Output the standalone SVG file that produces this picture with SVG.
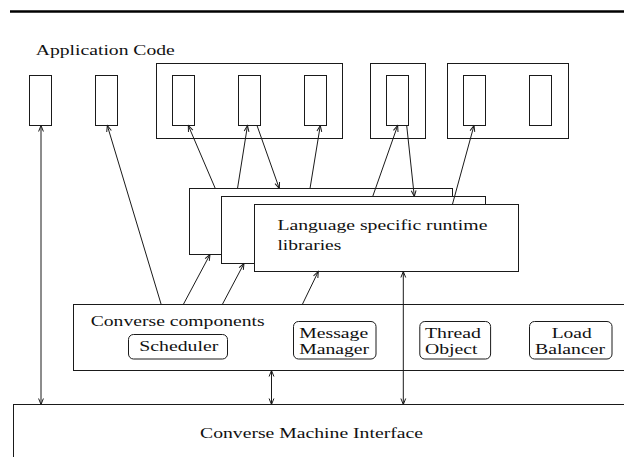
<svg xmlns="http://www.w3.org/2000/svg" width="624" height="457" viewBox="0 0 624 457">
  <style>
    .box { fill: #ffffff; stroke: #1a1a1a; stroke-width: 1; }
    .open { fill: none; stroke: #1a1a1a; stroke-width: 1; }
    .comp { fill: #ffffff; stroke: #1a1a1a; stroke-width: 1; }
    .lbl { font-family: "Liberation Serif", "Times New Roman", serif; font-size: 15px; fill: #111111; }
    .wire { fill: none; stroke: #1a1a1a; stroke-width: 1; }
  </style>
  <defs>
    <marker id="tip" viewBox="-8 -4 9 8" markerWidth="9" markerHeight="8" refX="0" refY="0" markerUnits="userSpaceOnUse" orient="auto-start-reverse">
      <path d="M-6,-2.4 L0,0 L-6,2.4" fill="none" stroke="#1a1a1a" stroke-width="1"/>
    </marker>
  </defs>

  <rect width="624" height="457" fill="#ffffff"/>

  <!-- heading rule -->
  <line x1="10" y1="11.5" x2="624" y2="11.5" stroke="#000000" stroke-width="2.5"/>

  <g id="application-code">
    <text class="lbl" x="35.8" y="55" textLength="139" lengthAdjust="spacingAndGlyphs">Application Code</text>
    <g id="app-object-1"><rect class="box" x="29.5" y="75.5" width="22" height="50"/></g>
    <g id="app-object-2"><rect class="box" x="95.5" y="75.5" width="22" height="50"/></g>
    <g id="app-group-1">
      <rect class="box" x="156.5" y="63.5" width="186" height="75"/>
      <rect class="box" x="172.5" y="75.5" width="22" height="50"/>
      <rect class="box" x="238.5" y="75.5" width="22" height="50"/>
      <rect class="box" x="304.5" y="75.5" width="22" height="50"/>
    </g>
    <g id="app-group-2">
      <rect class="box" x="370.5" y="63.5" width="55" height="75"/>
      <rect class="box" x="386.5" y="75.5" width="22" height="50"/>
    </g>
    <g id="app-group-3">
      <rect class="box" x="447.5" y="63.5" width="121" height="75"/>
      <rect class="box" x="463.5" y="75.5" width="22" height="50"/>
      <rect class="box" x="529.5" y="75.5" width="22" height="50"/>
    </g>
  </g>

  <g id="runtime-libraries">
    <rect class="box" x="189.5" y="188.5" width="263" height="66"/>
    <rect class="box" x="221.5" y="196.5" width="264" height="67"/>
    <rect class="box" x="254.5" y="204.5" width="264" height="67"/>
    <text class="lbl" x="277.4" y="230" textLength="210" lengthAdjust="spacingAndGlyphs">Language specific runtime</text>
    <text class="lbl" x="277.4" y="250" textLength="64" lengthAdjust="spacingAndGlyphs">libraries</text>
  </g>

  <g id="converse-components">
    <rect class="box" x="73.5" y="304.5" width="560" height="66"/>
    <text class="lbl" x="90.7" y="326" textLength="174" lengthAdjust="spacingAndGlyphs">Converse components</text>
    <g id="scheduler">
      <rect class="comp" x="128.5" y="334.5" width="99" height="24.5" rx="5" ry="5"/>
      <text class="lbl" x="139.3" y="351" textLength="79" lengthAdjust="spacingAndGlyphs">Scheduler</text>
    </g>
    <g id="message-manager">
      <rect class="comp" x="293.5" y="321.5" width="82.5" height="37.5" rx="5" ry="5"/>
      <text class="lbl" x="299.2" y="338" textLength="69" lengthAdjust="spacingAndGlyphs">Message</text>
      <text class="lbl" x="299.2" y="354" textLength="70" lengthAdjust="spacingAndGlyphs">Manager</text>
    </g>
    <g id="thread-object">
      <rect class="comp" x="419.8" y="321.5" width="70.8" height="37.5" rx="5" ry="5"/>
      <text class="lbl" x="425" y="338" textLength="56" lengthAdjust="spacingAndGlyphs">Thread</text>
      <text class="lbl" x="425" y="354" textLength="52.5" lengthAdjust="spacingAndGlyphs">Object</text>
    </g>
    <g id="load-balancer">
      <rect class="comp" x="529.5" y="321.5" width="82.5" height="37.5" rx="5" ry="5"/>
      <text class="lbl" x="551.7" y="338" textLength="40" lengthAdjust="spacingAndGlyphs">Load</text>
      <text class="lbl" x="535" y="354" textLength="70" lengthAdjust="spacingAndGlyphs">Balancer</text>
    </g>
  </g>

  <g id="machine-interface">
    <rect class="box" x="13.5" y="404.5" width="630" height="70"/>
    <text class="lbl" x="200" y="438" textLength="223" lengthAdjust="spacingAndGlyphs">Converse Machine Interface</text>
  </g>

  <g id="connectors">
    <line class="wire" x1="41" y1="125.5" x2="41" y2="404.5" marker-start="url(#tip)" marker-end="url(#tip)"/>
    <line class="wire" x1="161.2" y1="304.5" x2="107.3" y2="125.5" marker-end="url(#tip)"/>
    <line class="wire" x1="183.3" y1="304.5" x2="210" y2="254.5" marker-end="url(#tip)"/>
    <line class="wire" x1="222.3" y1="304.5" x2="244" y2="263.5" marker-end="url(#tip)"/>
    <line class="wire" x1="302.3" y1="304.5" x2="318.3" y2="271.5" marker-end="url(#tip)"/>
    <line class="wire" x1="271.5" y1="370.5" x2="271.5" y2="404.5" marker-start="url(#tip)" marker-end="url(#tip)"/>
    <line class="wire" x1="403.3" y1="271.5" x2="403.3" y2="404.5" marker-start="url(#tip)" marker-end="url(#tip)"/>
    <line class="wire" x1="215.3" y1="188.5" x2="188.3" y2="125.5" marker-end="url(#tip)"/>
    <line class="wire" x1="237.5" y1="188.5" x2="247.5" y2="125.5" marker-end="url(#tip)"/>
    <line class="wire" x1="257" y1="125.5" x2="279.3" y2="188.5" marker-end="url(#tip)"/>
    <line class="wire" x1="310" y1="188.5" x2="320.3" y2="125.5" marker-end="url(#tip)"/>
    <line class="wire" x1="372.7" y1="196.5" x2="397.7" y2="125.5" marker-end="url(#tip)"/>
    <line class="wire" x1="406.7" y1="125.5" x2="414.3" y2="196.5" marker-end="url(#tip)"/>
    <line class="wire" x1="452.4" y1="204.5" x2="474" y2="125.5" marker-end="url(#tip)"/>
  </g>
</svg>
